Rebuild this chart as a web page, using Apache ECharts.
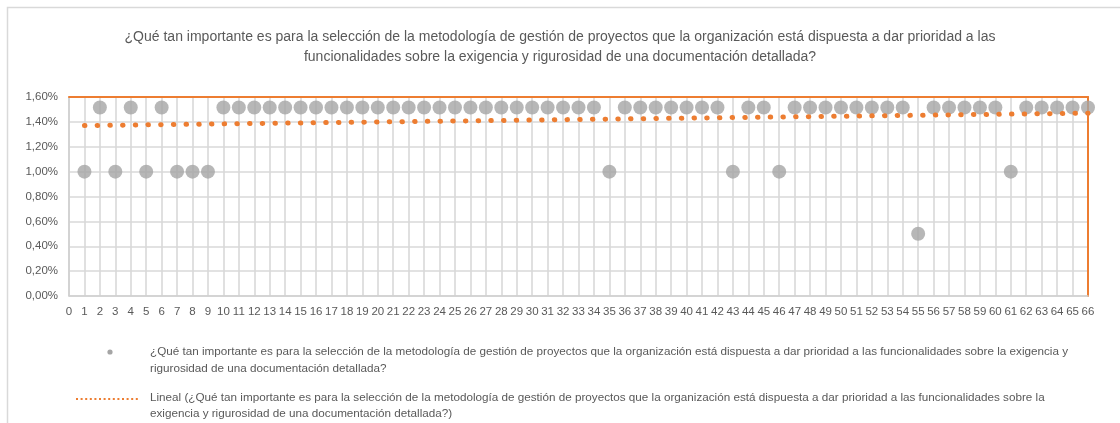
<!DOCTYPE html>
<html>
<head>
<meta charset="utf-8">
<script src="https://cdn.jsdelivr.net/npm/echarts@6.0.0/dist/echarts.min.js"></script>
<style>
  html, body { margin: 0; padding: 0; background: #fff; }
  #chart { width: 1120px; height: 423px; }
</style>
</head>
<body>
<div id="chart"></div>
<script>
// Survey question shown as title and in the legend
const questionTitle = '¿Qué tan importante es para la selección de la metodología de gestión de proyectos que la organización está dispuesta a dar prioridad a las\nfuncionalidades sobre la exigencia y rigurosidad de una documentación detallada?';
const seriesLegend = '¿Qué tan importante es para la selección de la metodología de gestión de proyectos que la organización está dispuesta a dar prioridad a las funcionalidades sobre la exigencia y\nrigurosidad de una documentación detallada?';
const trendLegend = 'Lineal (¿Qué tan importante es para la selección de la metodología de gestión de proyectos que la organización está dispuesta a dar prioridad a las funcionalidades sobre la\nexigencia y rigurosidad de una documentación detallada?)';

// Respondent number (x) and share of answers in % (y)
const respondents = [1, 2, 3, 4, 5, 6, 7, 8, 9, 10, 11, 12, 13, 14, 15, 16, 17, 18, 19, 20, 21, 22,
  23, 24, 25, 26, 27, 28, 29, 30, 31, 32, 33, 34, 35, 36, 37, 38, 39, 40, 41, 42, 43, 44,
  45, 46, 47, 48, 49, 50, 51, 52, 53, 54, 55, 56, 57, 58, 59, 60, 61, 62, 63, 64, 65, 66];
const importance = [1.00, 1.515, 1.00, 1.515, 1.00, 1.515, 1.00, 1.00, 1.00, 1.515, 1.515, 1.515,
  1.515, 1.515, 1.515, 1.515, 1.515, 1.515, 1.515, 1.515, 1.515, 1.515, 1.515, 1.515, 1.515,
  1.515, 1.515, 1.515, 1.515, 1.515, 1.515, 1.515, 1.515, 1.515, 1.00, 1.515, 1.515, 1.515,
  1.515, 1.515, 1.515, 1.515, 1.00, 1.515, 1.515, 1.00, 1.515, 1.515, 1.515, 1.515, 1.515,
  1.515, 1.515, 1.515, 0.50, 1.515, 1.515, 1.515, 1.515, 1.515, 1.00, 1.515, 1.515, 1.515,
  1.515, 1.515];

// Linear trend end points
const trendX = [1, 66];
const trendY = [1.37, 1.47];

// Axis ranges
const xMin = 0, xMax = 66, xStep = 1;
const yMin = 0, yMax = 1.6, yStep = 0.2;

const FONT = '"Liberation Sans Narrow", "Liberation Sans", Lato, sans-serif';
const TEXT = '#595959';
const GRID = '#d9d9d9';
const ORANGE = '#ED7D31';
const GREY = '#A5A5A5';

const pct = v => v.toFixed(2).replace('.', ',') + '%';

const chart = echarts.init(document.getElementById('chart'), null, { renderer: 'canvas' });

chart.setOption({
  animation: false,
  backgroundColor: '#fff',
  title: {
    text: questionTitle,
    left: 'center',
    top: 27,
    padding: [0, 0, 0, 6],
    textStyle: { fontFamily: FONT, fontSize: 14, fontWeight: 'normal', color: TEXT, lineHeight: 20 }
  },
  grid: { left: 69, right: 32, top: 97, bottom: 127, containLabel: false },
  xAxis: [{
    type: 'value', min: xMin, max: xMax, interval: xStep,
    axisLine: { show: true, lineStyle: { color: '#cfcfcf', width: 1.5 } },
    axisTick: { show: false },
    axisLabel: { color: TEXT, fontFamily: FONT, fontSize: 11.5, margin: 10 },
    splitLine: { show: true, lineStyle: { color: GRID, width: 1.6 } }
  }, {
    type: 'value', min: xMin, max: xMax, position: 'top',
    axisLine: { show: true, onZero: false, lineStyle: { color: ORANGE, width: 2 } },
    axisTick: { show: false }, axisLabel: { show: false }, splitLine: { show: false }
  }],
  yAxis: [{
    type: 'value', min: yMin, max: yMax, interval: yStep,
    axisLine: { show: true, lineStyle: { color: '#cfcfcf', width: 1.5 } },
    axisTick: { show: false },
    axisLabel: { color: TEXT, fontFamily: FONT, fontSize: 11.5, margin: 11, formatter: pct },
    splitLine: { show: true, lineStyle: { color: GRID, width: 1.6 } }
  }, {
    type: 'value', min: yMin, max: yMax, position: 'right',
    axisLine: { show: true, onZero: false, lineStyle: { color: ORANGE, width: 2 } },
    axisTick: { show: false }, axisLabel: { show: false }, splitLine: { show: false }
  }],
  series: [{
    name: seriesLegend,
    type: 'scatter',
    z: 3,
    symbol: 'circle',
    symbolSize: 14,
    itemStyle: { color: GREY },
    data: respondents.map((x, i) => [x, importance[i]])
  }, {
    name: trendLegend,
    type: 'line',
    z: 4,
    symbol: 'none',
    lineStyle: { color: ORANGE, width: 5, type: [0.5, 12.2], cap: 'round' },
    data: trendX.map((x, i) => [x, trendY[i]])
  }],
  graphic: [
    { type: 'rect', silent: true, shape: { x: 7.5, y: 7.5, width: 1200, height: 440 },
      style: { fill: 'none', stroke: '#d9d9d9', lineWidth: 1.5 } },
    { type: 'circle', silent: true, shape: { cx: 110, cy: 352, r: 2.6 }, style: { fill: GREY } },
    { type: 'text', silent: true, left: 150, top: 343.5,
      style: { text: seriesLegend, fontFamily: FONT, fontSize: 11.7, lineHeight: 17, fill: TEXT } },
    { type: 'line', silent: true, shape: { x1: 76, y1: 399, x2: 138, y2: 399 },
      style: { stroke: ORANGE, lineWidth: 2, lineDash: [2, 2.6] } },
    { type: 'text', silent: true, left: 150, top: 390,
      style: { text: trendLegend, fontFamily: FONT, fontSize: 11.7, lineHeight: 16, fill: TEXT } }
  ]
});
</script>
</body>
</html>
